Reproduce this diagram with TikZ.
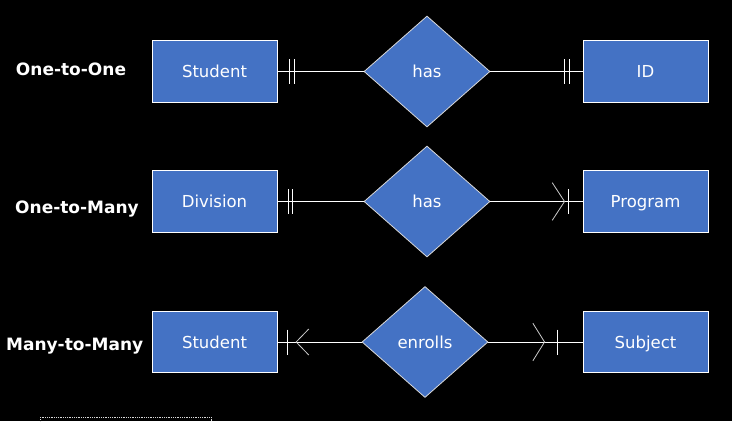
\documentclass[tikz,border=0pt]{standalone}
\usepackage{fontspec}
\setmainfont{DejaVu Sans}
\usetikzlibrary{shapes.geometric}
\begin{document}
\begin{tikzpicture}[x=1pt,y=-1pt,
  entity/.style={draw=white,line width=0.9pt,fill=ebox,minimum width=125pt,minimum height=61.5pt,inner sep=0pt,text=white,text height=12pt,text depth=0pt,font=\fontsize{16.5}{19}\selectfont},
  rel/.style={diamond,draw=white!85!black,line width=0.8pt,fill=ebox,minimum width=126pt,minimum height=111pt,inner sep=0pt,text=white,text height=12pt,text depth=0pt,font=\fontsize{16.5}{19}\selectfont},
  lbl/.style={text=white,anchor=base,font=\fontsize{17}{20}\selectfont\bfseries},
  conn/.style={draw=white,line width=0.9pt},
  tick/.style={draw=white,line width=0.9pt},
  prong/.style={draw=white!80!black,line width=0.8pt}]
\definecolor{ebox}{HTML}{4472C4}
\fill[black] (0,0) rectangle (732,421);
\useasboundingbox (0,0) rectangle (732,421);

% labels
\node[lbl] (l1) at (71,75) {One-to-One};
\node[lbl] (l2) at (77,213) {One-to-Many};
\node[lbl] (l3) at (74.7,350) {Many-to-Many};

% row 1
\node[entity] (s1) at (214.5,71.5) {Student};
\node[rel] (d1) at (427,71.5) {has};
\node[entity] (e1) at (645.5,71.5) {ID};
\draw[conn] (s1.east) -- (d1.west);
\draw[conn] (d1.east) -- (e1.west);
\draw[tick] ([shift={(12.3,-12.5)}]s1.east) -- ++(0,25);
\draw[tick] ([shift={(17,-12.5)}]s1.east) -- ++(0,25);
\draw[tick] ([shift={(-18,-12.5)}]e1.west) -- ++(0,25);
\draw[tick] ([shift={(-13,-12.5)}]e1.west) -- ++(0,25);

% row 2
\node[entity] (s2) at (214.5,201.5) {Division};
\node[rel] (d2) at (427,201.5) {has};
\node[entity] (e2) at (645.5,201.5) {Program};
\draw[conn] (s2.east) -- (d2.west);
\draw[conn] (d2.east) -- (e2.west);
\draw[tick] ([shift={(10.7,-12.5)}]s2.east) -- ++(0,25);
\draw[tick] ([shift={(15.3,-12.5)}]s2.east) -- ++(0,25);
\draw[tick] ([shift={(-13.7,-12.5)}]e2.west) -- ++(0,25);
\draw[prong] ([shift={(-30.3,-18.8)}]e2.west) -- ([xshift=-18pt]e2.west) -- ([shift={(-30.3,18.8)}]e2.west);

% row 3
\node[entity] (s3) at (214.5,342) {Student};
\node[rel] (d3) at (425,342) {enrolls};
\node[entity] (e3) at (645.5,342) {Subject};
\draw[conn] (s3.east) -- (d3.west);
\draw[conn] (d3.east) -- (e3.west);
\draw[tick] ([shift={(10.3,-12.5)}]s3.east) -- ++(0,25);
\draw[prong] ([shift={(31.3,-13)}]s3.east) -- ([xshift=18.7pt]s3.east) -- ([shift={(31.3,13)}]s3.east);
\draw[tick] ([shift={(-24.7,-12.5)}]e3.west) -- ++(0,25);
\draw[prong] ([shift={(-49.7,-18.8)}]e3.west) -- ([xshift=-38pt]e3.west) -- ([shift={(-49.7,18.8)}]e3.west);

% dotted frame at bottom
\coordinate (f1) at (40.3,425);
\coordinate (f2) at (40.3,417.3);
\coordinate (f3) at (211.3,417.3);
\coordinate (f4) at (211.3,425);
\draw[white!85!black,line width=0.8pt,densely dotted] (f1) -- (f2) -- (f3) -- (f4);
\end{tikzpicture}
\end{document}
